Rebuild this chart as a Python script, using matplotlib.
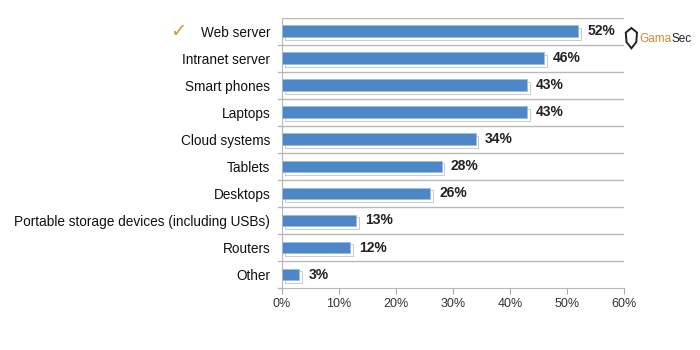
import matplotlib
matplotlib.use('Agg')
import matplotlib.pyplot as plt
import matplotlib.patheffects as pe
from matplotlib.patches import Polygon

categories = ['Web server', 'Intranet server', 'Smart phones', 'Laptops',
              'Cloud systems', 'Tablets', 'Desktops',
              'Portable storage devices (including USBs)', 'Routers', 'Other']
values = [52, 46, 43, 43, 34, 28, 26, 13, 12, 3]
xticks = [0, 10, 20, 30, 40, 50, 60]

plt.rcParams['font.family'] = ['Liberation Sans', 'DejaVu Sans']

fig = plt.figure(figsize=(7, 3.5), dpi=100)
ax = fig.add_axes([0.403, 0.177, 0.488, 0.772])

pos = list(range(len(categories)))
ax.barh(pos, values, height=0.44, color='#4d87c7', edgecolor='#9bbbe0',
        linewidth=0.6, zorder=3,
        path_effects=[pe.SimpleLineShadow(offset=(2, -2), shadow_color='#a8a8a8', alpha=0.7),
                      pe.Normal()])
for p, v in zip(pos, values):
    ax.text(v + 1.6, p, '%d%%' % v, va='center', ha='left', fontsize=10,
            color='#222222', zorder=4, fontweight='bold')

ax.set_ylim(len(categories) - 0.5, -0.5)
ax.set_xlim(0, 60)
ax.set_xticks(xticks)
ax.set_xticklabels(['%d%%' % t for t in xticks], fontsize=9, color='#333333')
ax.set_yticks(pos)
ax.set_yticklabels(categories, fontsize=9.8, color='#111111')
ax.tick_params(axis='y', length=0, pad=8.5)
ax.tick_params(axis='x', length=4, color='#aaaaaa', direction='out')

# separators between categories
for b in range(len(categories)):
    ax.axhline(b - 0.5, color='#b8b8b8', linewidth=1, zorder=1)
    ax.plot([-0.8, 0], [b + 0.5, b + 0.5], color='#b8b8b8', linewidth=1,
            clip_on=False)

for s in ['top', 'right']:
    ax.spines[s].set_visible(False)
ax.spines['left'].set_color('#b8b8b8')
ax.spines['bottom'].set_color('#b8b8b8')

fig.text(0.255, 0.91, '\u2713', fontsize=14, color='#c8a030',
         family=['DejaVu Sans'], ha='center', va='center')

# logo: small shield + name
shield = Polygon([(0.894, 0.907), (0.902, 0.92), (0.91, 0.907),
                  (0.909, 0.88), (0.902, 0.862), (0.895, 0.88)],
                 closed=True, fill=False, edgecolor='#222222', linewidth=1.4,
                 transform=fig.transFigure)
fig.patches.append(shield)
t = fig.text(0.914, 0.89, 'Gama', fontsize=8.5, color='#d9892a', va='center')
fig.canvas.draw()
bb = t.get_window_extent().transformed(fig.transFigure.inverted())
fig.text(bb.x1, 0.89, 'Sec', fontsize=8.5, color='#222222', va='center')

fig.savefig('out.png', dpi=100)
